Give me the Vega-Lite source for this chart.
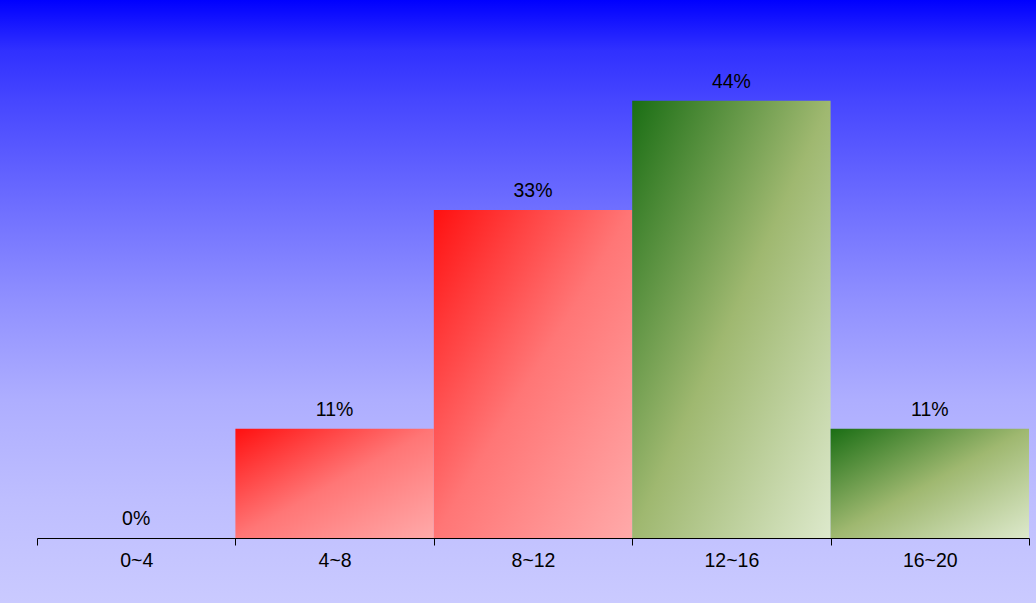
{
  "$schema": "https://vega.github.io/schema/vega-lite/v6.json",
  "description": "Share of results per score band, bars shaded with gradients on a blue gradient background.",
  "width": 1036,
  "height": 603,
  "autosize": "none",
  "padding": 0,
  "background": "#cacaff",
  "data": {
    "values": [
      {"range": "0~4", "pct": 0, "grp": "low"},
      {"range": "4~8", "pct": 0.1111, "grp": "low"},
      {"range": "8~12", "pct": 0.3333, "grp": "low"},
      {"range": "12~16", "pct": 0.4444, "grp": "high"},
      {"range": "16~20", "pct": 0.1111, "grp": "high"}
    ]
  },
  "encoding": {
    "x": {
      "field": "range",
      "type": "nominal",
      "sort": null,
      "title": null,
      "scale": {"range": [37, 1029], "paddingInner": 0, "paddingOuter": 0},
      "axis": {
        "offset": -65,
        "tickBand": "extent",
        "labelAngle": 0,
        "tickSize": 7,
        "labelPadding": 6,
        "domainColor": "#000000",
        "tickColor": "#000000",
        "labelColor": "#000000",
        "labelFont": "Liberation Sans",
        "labelFontSize": 19.5,
        "grid": false
      }
    },
    "y": {
      "field": "pct",
      "type": "quantitative",
      "scale": {"domain": [0, 0.5], "range": [538, 46], "nice": false},
      "axis": null
    }
  },
  "layer": [
    {
      "transform": [{"filter": "datum.grp == 'low'"}],
      "mark": {
        "type": "bar",
        "fill": {
          "gradient": "linear",
          "x1": 0, "y1": 0, "x2": 1, "y2": 1,
          "stops": [
            {"offset": 0, "color": "#ff1010"},
            {"offset": 0.5, "color": "#ff7676"},
            {"offset": 1, "color": "#ffaaaa"}
          ]
        }
      }
    },
    {
      "transform": [{"filter": "datum.grp == 'high'"}],
      "mark": {
        "type": "bar",
        "fill": {
          "gradient": "linear",
          "x1": 0, "y1": 0, "x2": 1, "y2": 1,
          "stops": [
            {"offset": 0, "color": "#1a6e14"},
            {"offset": 0.5, "color": "#9fb870"},
            {"offset": 1, "color": "#dde9cc"}
          ]
        }
      }
    },
    {
      "mark": {
        "type": "text",
        "baseline": "alphabetic",
        "dy": -13,
        "font": "Liberation Sans",
        "fontSize": 19.5,
        "color": "#000000"
      },
      "encoding": {
        "text": {"field": "pct", "type": "quantitative", "format": ".0%"}
      }
    }
  ],
  "config": {
    "view": {
      "stroke": null,
      "fill": {
        "gradient": "linear",
        "x1": 0, "y1": 0, "x2": 0, "y2": 1,
        "stops": [
          {"offset": 0, "color": "#0000ff"},
          {"offset": 0.083, "color": "#3030ff"},
          {"offset": 0.166, "color": "#4646ff"},
          {"offset": 0.332, "color": "#6c6cff"},
          {"offset": 0.498, "color": "#9090ff"},
          {"offset": 0.663, "color": "#aeaeff"},
          {"offset": 0.829, "color": "#bebeff"},
          {"offset": 1, "color": "#cacaff"}
        ]
      }
    }
  }
}
